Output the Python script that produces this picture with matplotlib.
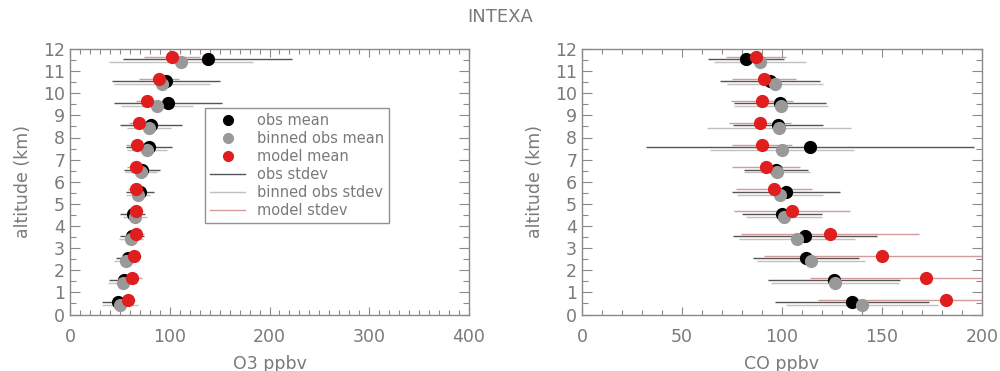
import matplotlib
matplotlib.use("Agg")
import matplotlib.pyplot as plt
from matplotlib.lines import Line2D
from matplotlib.ticker import MultipleLocator
import numpy as np

# ---- data ----
altitude = [0.5, 1.5, 2.5, 3.5, 4.5, 5.5, 6.5, 7.5, 8.5, 9.5, 10.5, 11.5]

o3_obs_mean = [48, 54, 58, 62, 63, 70, 72, 79, 81, 98, 96, 138]
o3_obs_sd = [15.5, 14.5, 12, 12, 12.5, 14, 18, 23, 31, 54, 54, 85]
o3_bin_mean = [50, 53, 56, 61, 65, 68, 71, 77, 79, 87, 92, 111]
o3_bin_sd = [18, 14.5, 12, 12, 12, 12, 16, 20, 22, 36, 48, 72]
o3_mod_mean = [58, 62, 64, 66, 66, 66, 66, 67, 69, 77, 89, 102]
o3_mod_sd = [7.5, 10, 7, 8, 7.5, 8, 9, 11, 10, 11, 20, 28]

co_obs_mean = [135, 126, 112, 111.5, 100, 102, 97, 114, 98, 99, 94, 82]
co_obs_sd = [38.5, 33, 26.5, 36, 20, 27, 16, 82, 22.5, 23, 25, 19]
co_bin_mean = [140, 126.5, 114.7, 107.3, 101, 99, 97.3, 100, 98.5, 99.3, 96.5, 89]
co_bin_sd = [38, 32, 27, 29, 19, 21.5, 16.5, 36, 36, 23.5, 24, 23]
co_mod_mean = [182, 172, 150, 124, 105, 96, 92, 90, 89, 90, 91, 87]
co_mod_sd = [64, 58, 59, 44.5, 29, 19, 17, 15, 15.5, 15.5, 16, 15]

title = "INTEXA"
legend_labels = ["obs mean", "binned obs mean", "model mean",
                 "obs stdev", "binned obs stdev", "model stdev"]

# ---- style ----
TXT = "#7a7a7a"
AX = "#8a8a8a"
C_OBS, C_BIN, C_MOD = "#000000", "#999999", "#e01e1e"
L_OBS, L_BIN, L_MOD = "#555555", "#c0c0c0", "#d49a9a"
plt.rcParams["font.family"] = ["DejaVu Sans"]

fig = plt.figure(figsize=(10, 3.71), dpi=100)
W, H = 1000, 371
ax1 = fig.add_axes([70 / W, 1 - 314.5 / H, 399 / W, 265.5 / H])
ax2 = fig.add_axes([582 / W, 1 - 314.5 / H, 400 / W, 265.5 / H])

alt = np.array(altitude)
offs = (0.05, -0.08, 0.16)


def panel(ax, om, osd, bm, bsd, mm, msd, xmax, xmaj, xmin, xlabel):
    for mean, sd, lc, mc, off, z in ((om, osd, L_OBS, C_OBS, offs[0], 2),
                                      (bm, bsd, L_BIN, C_BIN, offs[1], 3),
                                      (mm, msd, L_MOD, C_MOD, offs[2], 4)):
        mean = np.array(mean); sd = np.array(sd)
        ax.hlines(alt + off, mean - sd, mean + sd, color=lc, lw=1.0, zorder=1 + z * 0.1)
        ax.plot(mean, alt + off, "o", color=mc, ms=8.5, mec=mc, zorder=z, clip_on=False)
    ax.set_xlim(0, xmax)
    ax.set_ylim(0, 12)
    ax.xaxis.set_major_locator(MultipleLocator(xmaj))
    ax.xaxis.set_minor_locator(MultipleLocator(xmin))
    ax.yaxis.set_major_locator(MultipleLocator(1))
    ax.yaxis.set_minor_locator(MultipleLocator(0.5))
    ax.tick_params(which="both", direction="in", top=True, right=True,
                   colors=AX, labelcolor=TXT, labelsize=12.5)
    ax.tick_params(axis="y", which="major", length=7, width=0.8)
    ax.tick_params(axis="y", which="minor", length=4, width=0.8)
    ax.tick_params(axis="x", which="major", length=6, width=0.8, pad=10)
    ax.tick_params(axis="x", which="minor", length=3.5, width=0.8)
    for s in ax.spines.values():
        s.set_color(AX)
        s.set_linewidth(1.0)
    ax.set_xlabel(xlabel, color=TXT, fontsize=12.5, labelpad=6)
    ax.set_ylabel("altitude (km)", color=TXT, fontsize=12.5, labelpad=8)


panel(ax1, o3_obs_mean, o3_obs_sd, o3_bin_mean, o3_bin_sd, o3_mod_mean, o3_mod_sd,
      400, 100, 10, "O3 ppbv")
panel(ax2, co_obs_mean, co_obs_sd, co_bin_mean, co_bin_sd, co_mod_mean, co_mod_sd,
      200, 50, 10, "CO ppbv")

fig.text(0.5, 1 - 17 / H, title, ha="center", va="center", color=TXT, fontsize=13)

handles = [
    Line2D([], [], ls="none", marker="o", color=C_OBS, ms=7),
    Line2D([], [], ls="none", marker="o", color=C_BIN, ms=7),
    Line2D([], [], ls="none", marker="o", color=C_MOD, ms=7),
    Line2D([], [], color=L_OBS, lw=1.0),
    Line2D([], [], color=L_BIN, lw=1.0),
    Line2D([], [], color=L_MOD, lw=1.0),
]
leg = ax1.legend(handles, legend_labels, loc="upper left",
                 bbox_to_anchor=((205 - 70) / 399, 1 - (108 - 49) / 265.5),
                 frameon=True, fancybox=False, fontsize=10.5, labelcolor=TXT,
                 handlelength=2.4, handletextpad=0.8, borderpad=0.35,
                 labelspacing=0.2, borderaxespad=0)
leg.get_frame().set_edgecolor("#777777")
leg.get_frame().set_linewidth(1.0)

fig.savefig("out.png", dpi=100)
